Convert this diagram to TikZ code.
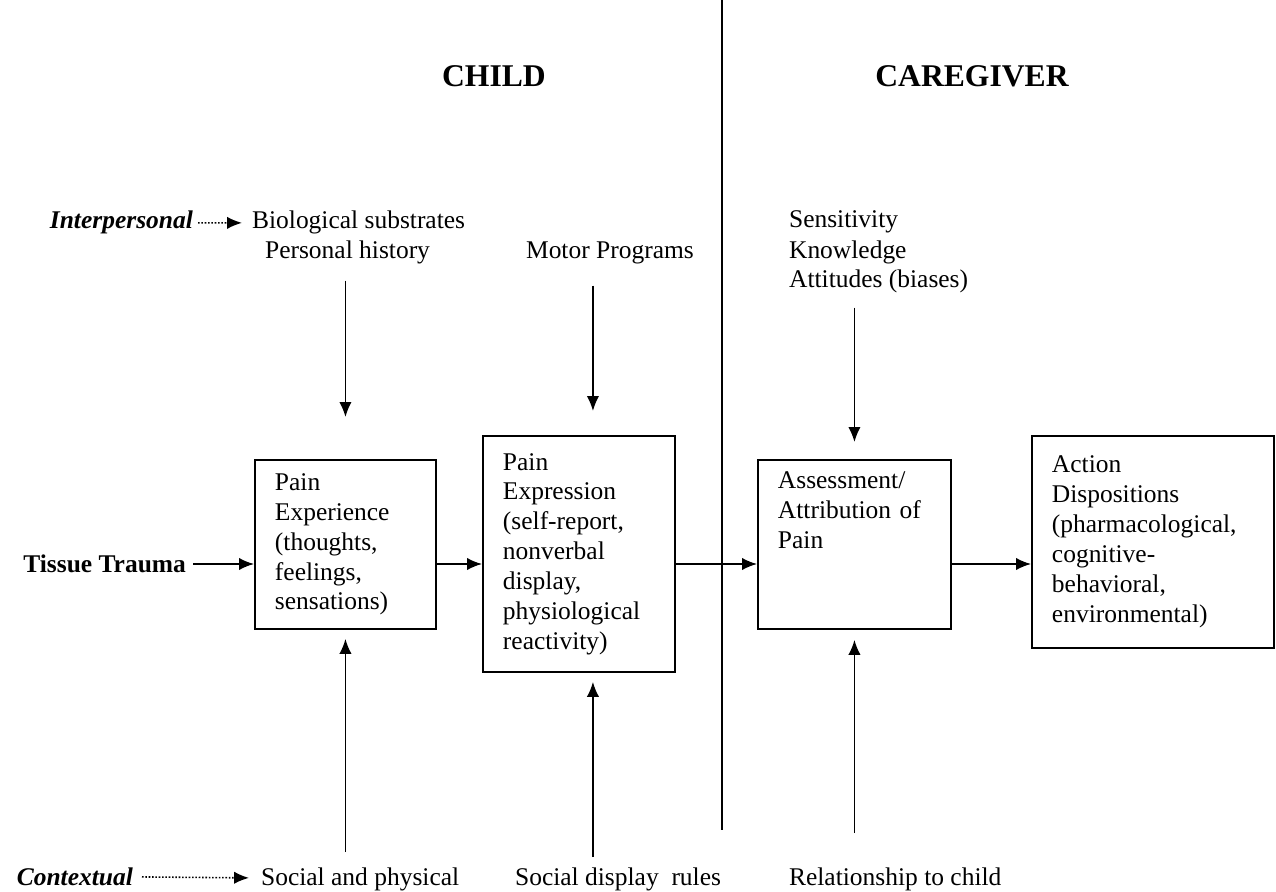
\documentclass[tikz,border=0pt]{standalone}
\usepackage{fontspec}
\setmainfont{Liberation Serif}
\usetikzlibrary{arrows.meta}
\tikzset{
  stage/.style={draw,line width=1.1pt,anchor=north west,align=left,inner xsep=0.4cm,inner ysep=0pt},
  lbl/.style={inner sep=1pt},
  head/.style={font=\fontsize{18}{21}\selectfont\bfseries,anchor=base},
  arr/.style={-{Latex[length=8.5pt,width=7pt]},line width=0.9pt},
  dotarr/.style={arr,densely dotted},
}
\begin{document}
\begin{tikzpicture}[x=0.02cm,y=-0.02cm,font=\fontsize{14.5}{17}\selectfont,line cap=butt]
  \useasboundingbox (0,0) rectangle (1276,892);
  % Child on the left of the divider, caregiver on the right.
  \draw[line width=1pt] (722,0) -- (722,830);
  \node[head] (child) at (494,87) {CHILD};
  \node[head] (carer) at (972,87) {CAREGIVER};
  \node[lbl,anchor=base east,font=\fontsize{14.5}{17}\selectfont\bfseries\itshape] (interp) at (195,229) {Interpersonal};
  \node[lbl,anchor=base west] (bio) at (250,229) {Biological substrates};
  \node[lbl,anchor=base west] (hist) at (263,258) {Personal history};
  \node[lbl,anchor=base west] (motor) at (524,258) {Motor Programs};
  \node[lbl,anchor=base west] (sens) at (787,228) {Sensitivity};
  \node[lbl,anchor=base west] (know) at (787,258) {Knowledge};
  \node[lbl,anchor=base west] (att) at (787,288) {Attitudes (biases)};
  \node[stage,minimum width=3.62cm,minimum height=3.38cm,text width=2.82cm] (exper) at (254,459)
    {Pain\\Experience\\(thoughts,\\feelings,\\sensations)};
  \node[stage,minimum width=3.84cm,minimum height=4.72cm,text width=3.04cm] (expr) at (482,435)
    {Pain\\Expression\\(self-report,\\nonverbal\\display,\\physiological\\reactivity)};
  \node[stage,minimum width=3.86cm,minimum height=3.38cm,text width=3.06cm] (assess) at (757,459)
    {Assessment/\\Attribution of\\Pain\\\strut\\\strut};
  \node[stage,minimum width=4.84cm,minimum height=4.24cm,text width=4.04cm] (action) at (1031,435)
    {Action\\Dispositions\\(pharmacological,\\cognitive-\\behavioral,\\environmental)};
  \node[lbl,anchor=east,font=\fontsize{14.5}{17}\selectfont\bfseries] (tissue) at (188,564) {Tissue Trauma};
  \node[lbl,anchor=base east,font=\fontsize{14.5}{17}\selectfont\bfseries\itshape] (context) at (135,885) {Contextual};
  \node[lbl,anchor=base west] (social) at (259,885) {Social and physical};
  \node[lbl,anchor=base west] (display) at (513,885) {Social display\ \ rules};
  \node[lbl,anchor=base west] (relation) at (787,885) {Relationship to child};
  \draw[dotarr,shorten <=0.06cm,shorten >=0.16cm] (interp) -- (bio);
  \draw[dotarr,shorten <=0.14cm,shorten >=0.2cm] (context) -- (social);
  \draw[arr,shorten <=0.1cm] (tissue.east) -- (tissue.east -| exper.west);
  \draw[arr] (exper.east |- tissue.east) -- (expr.west |- tissue.east);
  \draw[arr] (expr.east |- tissue.east) -- (assess.west |- tissue.east);
  \draw[arr] (assess.east |- tissue.east) -- (action.west |- tissue.east);
  \draw[arr,shorten <=0.3cm,shorten >=0.84cm] (exper.north |- hist.south) -- (exper.north);
  \draw[arr,shorten <=0.4cm,shorten >=0.48cm] ([xshift=0.28cm]expr.north |- motor.south) -- ([xshift=0.28cm]expr.north);
  \draw[arr,shorten <=0.24cm,shorten >=0.34cm] (assess.north |- att.south) -- (assess.north);
  \draw[arr,shorten <=0.26cm,shorten >=0.18cm] (exper.south |- social.north) -- (exper.south);
  \draw[arr,shorten <=0.16cm,shorten >=0.18cm] ([xshift=0.28cm]expr.south |- display.north) -- ([xshift=0.28cm]expr.south);
  \draw[arr,shorten <=0.64cm,shorten >=0.2cm] (assess.south |- relation.north) -- (assess.south);
\end{tikzpicture}
\end{document}
